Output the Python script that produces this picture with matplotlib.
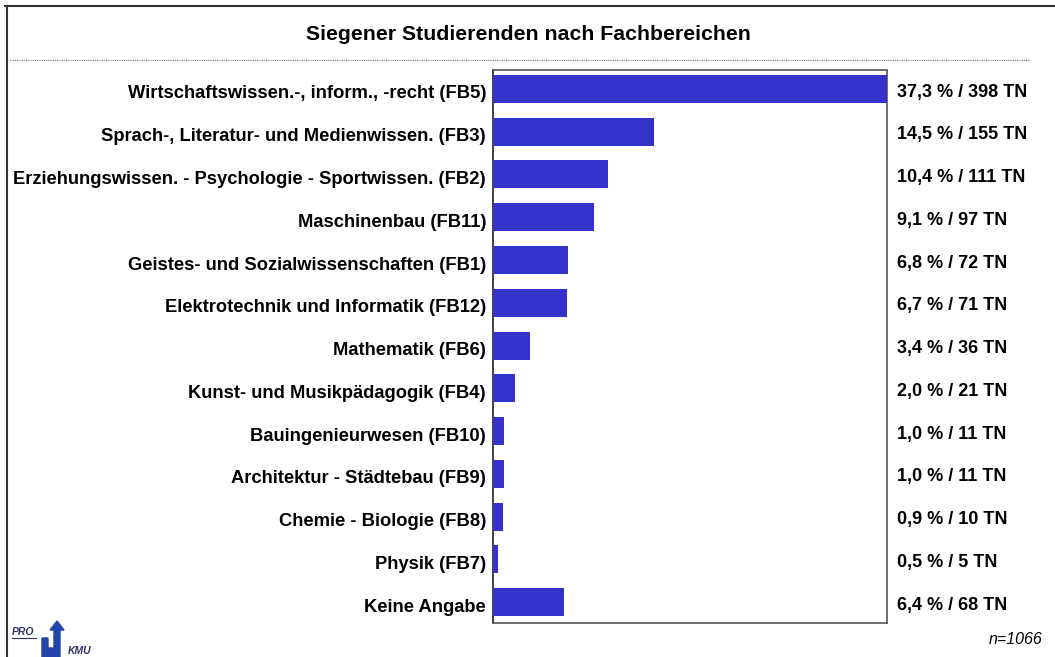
import matplotlib.pyplot as plt
from matplotlib.lines import Line2D
from matplotlib.patches import Polygon
from matplotlib.transforms import ScaledTranslation

plt.rcParams['font.family'] = ['Liberation Sans', 'DejaVu Sans']

# Daten
kategorien = [
    "Wirtschaftswissen.-, inform., -recht (FB5)",
    "Sprach-, Literatur- und Medienwissen. (FB3)",
    "Erziehungswissen. - Psychologie - Sportwissen. (FB2)",
    "Maschinenbau (FB11)",
    "Geistes- und Sozialwissenschaften (FB1)",
    "Elektrotechnik und Informatik (FB12)",
    "Mathematik (FB6)",
    "Kunst- und Musikpädagogik (FB4)",
    "Bauingenieurwesen (FB10)",
    "Architektur - Städtebau (FB9)",
    "Chemie - Biologie (FB8)",
    "Physik (FB7)",
    "Keine Angabe",
]
anzahl = [398, 155, 111, 97, 72, 71, 36, 21, 11, 11, 10, 5, 68]
prozent = ["37,3", "14,5", "10,4", "9,1", "6,8", "6,7", "3,4", "2,0", "1,0", "1,0", "0,9", "0,5", "6,4"]
n_gesamt = 1066

fig = plt.figure(figsize=(10.55, 6.57), dpi=100)
W, H = 1055, 657

# Achse: Box von x=493..887, y=70..623 (Pixel)
ax = fig.add_axes([493 / W, 1 - 623 / H, (887 - 493) / W, (623 - 70) / H])
y = list(range(len(kategorien)))
ax.barh(y, anzahl, height=0.655, color="#3333CC", zorder=3)
ax.set_ylim(len(kategorien) - 0.51, -0.444)
ax.set_xlim(0, 379)
ax.set_xticks([])
ax.set_yticks(y)
ax.set_yticklabels(kategorien, fontsize=13.2, fontweight="bold", va="center_baseline")
ax.tick_params(axis="y", length=0, pad=5)
# Beschriftungen etwas nach unten schieben
versatz = ScaledTranslation(0, -0.03, fig.dpi_scale_trans)
for lab in ax.get_yticklabels():
    lab.set_transform(lab.get_transform() + versatz)
for s in ax.spines.values():
    s.set_color("#555555")
    s.set_linewidth(1.2)
ax.spines["left"].set_color("#222222")

for i, (p, a) in enumerate(zip(prozent, anzahl)):
    ax.annotate(f"{p} % / {a} TN", xy=(1, i), xycoords=("axes fraction", "data"),
                xytext=(7, -2.2), textcoords="offset points", va="center", ha="left",
                fontsize=13, fontweight="bold")

# Titel und Trennlinie
fig.text(528 / W, 1 - 35 / H, "Siegener Studierenden nach Fachbereichen",
         ha="center", va="center", fontsize=15.3, fontweight="bold")
fig.add_artist(Line2D([10 / W, 1030 / W], [1 - 60 / H] * 2, color="#777777",
                      linestyle=(0, (1, 1)), linewidth=0.8))

# Rahmen oben und links
fig.add_artist(Line2D([5 / W, 1], [1 - 6 / H] * 2, color="#333333", linewidth=1.5))
fig.add_artist(Line2D([7 / W] * 2, [1 - 6 / H, 0], color="#333333", linewidth=1.5))

# Fußzeile
fig.text(1042 / W, 1 - 640 / H, f"n={n_gesamt}", ha="right", va="center",
         fontsize=11.5, style="italic")
fig.text(12 / W, 1 - 632 / H, "PRO", ha="left", va="center", fontsize=7.5,
         fontweight="bold", style="italic", color="#333366")
fig.add_artist(Line2D([12 / W, 36 / W], [1 - 638 / H] * 2, color="#333366", linewidth=0.8))
fig.text(68 / W, 1 - 651 / H, "KMU", ha="left", va="center", fontsize=7.5,
         fontweight="bold", style="italic", color="#333366")
# kleines Logo-Symbol
pfeil = [(42, 657), (42, 638), (48, 638), (48, 648), (54, 648), (54, 630),
         (50, 630), (57, 621), (64, 630), (60, 630), (60, 657)]
fig.add_artist(Polygon([(px / W, 1 - py / H) for px, py in pfeil], closed=True,
                       transform=fig.transFigure, color="#2244AA"))

fig.savefig("out.png", dpi=100)
